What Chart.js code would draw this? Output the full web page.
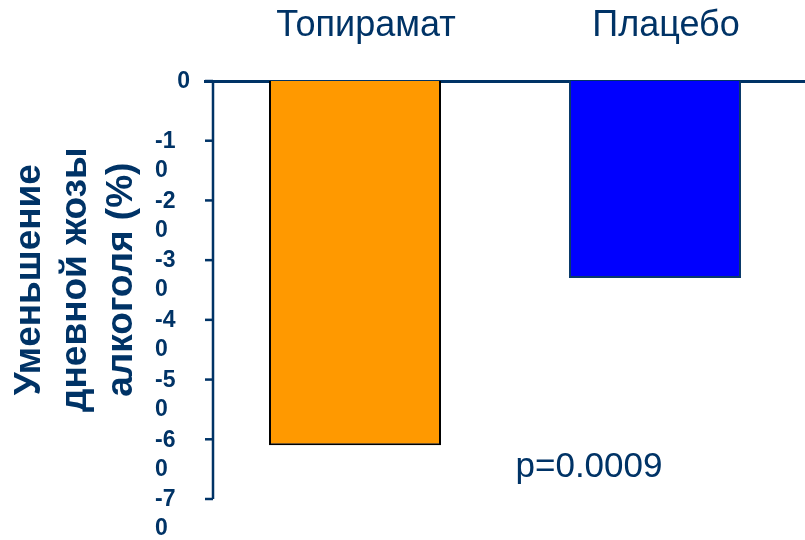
<!DOCTYPE html>
<html><head><meta charset="utf-8">
<script src="https://cdn.jsdelivr.net/npm/chart.js@4"></script>
<style>html,body{margin:0;padding:0;background:#fff}</style>
</head><body>
<canvas id="c" width="805" height="540"></canvas>
<script>
const categories = ['Топирамат', 'Плацебо'];
const reduction = [-61, -33];
const barColors = ['#FF9900', '#0000FF'];
const barBorders = ['#000000', '#0A3A6A'];
const yTickValues = [0, -10, -20, -30, -40, -50, -60, -70];
const yTickLabels = ['0', '-10', '-20', '-30', '-40', '-50', '-60', '-70'];
const yTitle = ['\u00A0\u00A0Уменьшение', '\u00A0\u00A0дневной жозы', '\u00A0\u00A0алкоголя (%)'];
const pValue = 'p=0.0009';

const NAVY = '#003366';
const FONT = "'Liberation Sans', Arial, sans-serif";

const axisPlugin = {
  id: 'axisPlugin',
  afterDraw(chart) {
    const ctx = chart.ctx;
    const y = chart.scales.y;
    const area = chart.chartArea;
    const axisX = area.left + 8;
    ctx.save();
    ctx.strokeStyle = NAVY;
    ctx.lineWidth = 2.5;
    ctx.beginPath();
    ctx.moveTo(axisX, y.getPixelForValue(yTickValues[0]));
    ctx.lineTo(axisX, y.getPixelForValue(yTickValues[yTickValues.length - 1]));
    ctx.stroke();
    yTickValues.forEach(v => {
      const py = y.getPixelForValue(v);
      ctx.beginPath();
      ctx.moveTo(area.left, py);
      ctx.lineTo(axisX, py);
      ctx.stroke();
    });
    ctx.fillStyle = NAVY;
    ctx.font = "bold 23px " + FONT;
    ctx.textBaseline = 'middle';
    yTickValues.forEach((v, i) => {
      const py = y.getPixelForValue(v);
      const lbl = yTickLabels[i];
      if (lbl.length <= 2) {
        ctx.textAlign = 'right';
        ctx.fillText(lbl, area.left - 15, py + 1);
      } else {
        ctx.textAlign = 'left';
        ctx.fillText(lbl.slice(0, -1), area.left - 50, py + 1);
        ctx.fillText(lbl.slice(-1), area.left - 50, py + 30);
      }
    });
    ctx.font = "35px " + FONT;
    ctx.textAlign = 'center';
    ctx.textBaseline = 'alphabetic';
    ctx.fillText(pValue, 589, 477);
    ctx.restore();
  }
};

new Chart(document.getElementById('c'), {
  type: 'bar',
  data: {
    labels: categories,
    datasets: [{
      data: reduction,
      backgroundColor: barColors,
      borderColor: barBorders,
      borderWidth: 2,
      barPercentage: 0.5733,
      categoryPercentage: 1
    }]
  },
  options: {
    responsive: false,
    animation: false,
    layout: { padding: { left: 0, right: 0, top: 0, bottom: 41 } },
    plugins: { legend: { display: false }, tooltip: { enabled: false } },
    scales: {
      x: {
        type: 'category',
        position: 'top',
        grid: { display: false, drawTicks: false },
        border: { display: true, color: NAVY, width: 3 },
        ticks: {
          color: NAVY,
          font: { family: FONT, size: 36, lineHeight: 1.2 },
          padding: 33,
          labelOffset: 11,
          autoSkip: false,
          maxRotation: 0
        },
        afterFit(s) { s.height = 81; }
      },
      y: {
        min: -70,
        max: 0,
        grid: { display: false, drawTicks: false },
        border: { display: false },
        ticks: { display: false },
        title: {
          display: true,
          text: yTitle,
          color: NAVY,
          font: { family: FONT, size: 37, weight: 'bold', lineHeight: 1.24 },
          padding: { top: 7, bottom: 0 }
        },
        afterFit(s) { s.width = 205; }
      }
    }
  },
  plugins: [axisPlugin]
});
</script>
</body></html>
